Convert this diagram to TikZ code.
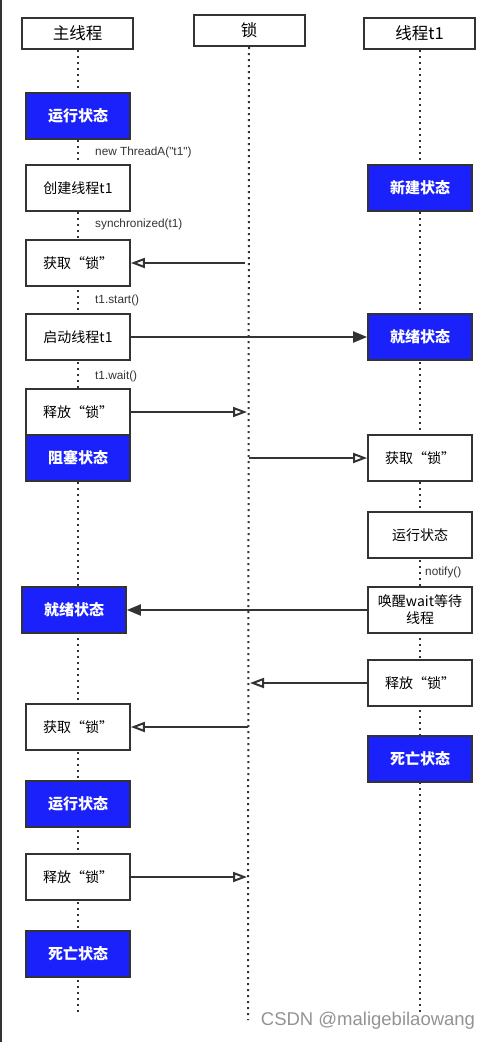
\documentclass[tikz,border=0pt]{standalone}
\usepackage{fontspec}
\setmainfont{Noto Sans CJK SC}
\newfontfamily\latinfont{Liberation Sans}
\usetikzlibrary{arrows.meta,positioning,backgrounds}
\definecolor{stateblue}{RGB}{27,33,250}
\definecolor{edgegray}{RGB}{51,51,51}

\begin{document}
\begin{tikzpicture}[x=1pt,y=-1pt,
		head/.style={draw=edgegray, line width=2pt, fill=white, minimum width=111pt, minimum height=31pt, inner sep=0pt, font=\fontsize{16.5}{18}\selectfont},
		act/.style={draw=edgegray, line width=1.7pt, fill=white, minimum width=104pt, minimum height=46pt, inner sep=0pt, align=center, font=\fontsize{14}{17}\selectfont},
		state/.style={act, fill=stateblue, text=white, font=\fontsize{15}{17}\selectfont\bfseries},
		call/.style={anchor=west, inner sep=0pt, font=\latinfont\fontsize{11.8}{13}\selectfont, text=edgegray},
		life/.style={edgegray, line width=2pt, dash pattern=on 2pt off 4pt},
		every edge/.style={draw=edgegray, line width=2.2pt},
		sync/.style={line width=2.2pt, -{Triangle[open, length=14pt, width=10pt, line width=2pt]}},
		async/.style={line width=2.2pt, -{Triangle[length=14pt, width=11pt]}}]
		\useasboundingbox (0,0) rectangle (492,1042);
		\fill[edgegray] (0,0) rectangle (1.5,1042);
		% Heads
		\node[head] (mainhd) at (77.5,33.5) {主线程};
		\node[head] (lockhd) at (249,30.5) {锁};
		\node[head] (t1hd) at (419.5,33.5) {线程t1};
		% Lifeline ends
		\coordinate (mainend) at (77.5,1015);
		\coordinate (lockend) at (248,1020);
		\coordinate (t1end) at (419.5,1015);
		% Main thread
		\node[state] (runA) at (78,116) {运行状态};
		\node[act] (create) at (78,188) {创建线程t1};
		\node[act] (getA) at (78,263) {获取“锁”};
		\node[act] (start) at (78,337) {启动线程t1};
		\node[act] (relA) at (78,412) {释放“锁”};
		\node[state] (block) at (78,458) {阻塞状态};
		\node[state] (readyA) at (74,610) {就绪状态};
		\node[act] (getC) at (78,727) {获取“锁”};
		\node[state] (runC) at (78,804) {运行状态};
		\node[act] (relC) at (78,877) {释放“锁”};
		\node[state] (deadA) at (78,954) {死亡状态};
		% Thread t1
		\node[state] (newB) at (420,188) {新建状态};
		\node[state] (readyB) at (420,337) {就绪状态};
		\node[act] (getB) at (420,458) {获取“锁”};
		\node[act] (runB) at (420,535) {运行状态};
		\node[act] (wake) at (420,610) {唤醒wait等待\\线程};
		\node[act] (relB) at (420,683) {释放“锁”};
		\node[state] (deadB) at (420,759) {死亡状态};
		% Calls
		\node[call] (lblnew) at (95,152) {new ThreadA("t1")};
		\node[call] (lblsync) at (95,224) {synchronized(t1)};
		\node[call] (lblstart) at (95,300) {t1.start()};
		\node[call] (lblwait) at (95,376) {t1.wait()};
		\node[call] (lblnotify) at (425,572) {notify()};
		% Lock points
		\coordinate (lk1) at (245,263);
		\coordinate (lk2) at (247,412);
		\coordinate (lk3) at (249,458);
		\coordinate (lk4) at (250,683);
		\coordinate (lk5) at (248,727);
		\coordinate (lk6) at (247,877);
		% Lifelines
		\begin{scope}[on background layer]
			\draw[life] (mainhd.south) -- (mainend);
			\draw[life] (lockhd.south) -- (lockend);
			\draw[life] (t1hd.south) -- (t1end);
		\end{scope}
		% Edges
		\draw (lk1) edge[sync] (getA.east);
		\draw (start.east) edge[async] (readyB.west);
		\draw (relA.east) edge[sync] (lk2);
		\draw (lk3) edge[sync] (getB.west);
		\draw (wake.west) edge[async] (readyA.east);
		\draw (relB.west) edge[sync] (lk4);
		\draw (lk5) edge[sync] (getC.east);
		\draw (relC.east) edge[sync] (lk6);
		% Watermark
		\node[text=gray!85, font=\latinfont\fontsize{18.5}{20}\selectfont] (wm) at (368,1021) {CSDN @maligebilaowang};
	\end{tikzpicture}
\end{document}
